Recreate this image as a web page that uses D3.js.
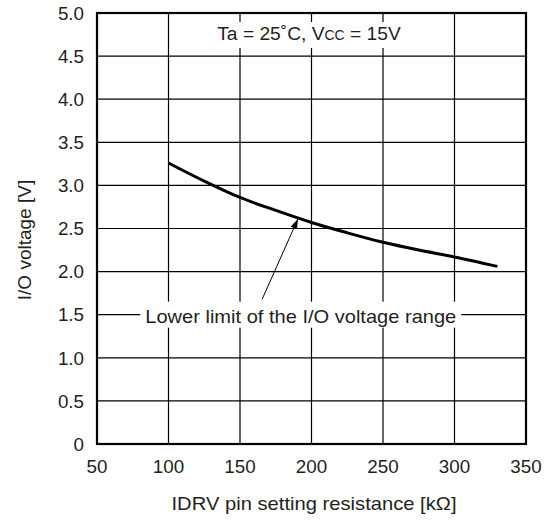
<!DOCTYPE html>
<html>
<head>
<meta charset="utf-8">
<script src="https://cdn.jsdelivr.net/npm/d3@7"></script>
<style>
  html, body { margin: 0; padding: 0; background: #fff; }
  svg { display: block; }
  text { font-family: "Liberation Sans", Arial, Helvetica, sans-serif; fill: #231f20; }
</style>
</head>
<body>
<svg id="chart" width="550" height="520"></svg>
<script>
// ---- data ----
const resistance = [100, 125, 150, 175, 200, 225, 250, 275, 300, 330];
const ioVoltage  = [3.26, 3.05, 2.86, 2.71, 2.57, 2.45, 2.34, 2.25, 2.17, 2.06];
const xTicks = [50, 100, 150, 200, 250, 300, 350];
const yTicks = [0, 0.5, 1.0, 1.5, 2.0, 2.5, 3.0, 3.5, 4.0, 4.5, 5.0];
const yTickLabels = ["0", "0.5", "1.0", "1.5", "2.0", "2.5", "3.0", "3.5", "4.0", "4.5", "5.0"];
const xTitle = "IDRV pin setting resistance [k\u03A9]";
const yTitle = "I/O voltage [V]";
const curveLabel = "Lower limit of the I/O voltage range";
const labelAnchor = [192.5, 1.5];     // data coords of label centre
const arrowFrom = [165.5, 1.68];
const arrowTo = [190.5, 2.61];

// ---- layout ----
const svg = d3.select("#chart");
const L = 97, T = 13, W = 429, H = 431;
const x = d3.scaleLinear().domain([50, 350]).range([L, L + W]);
const y = d3.scaleLinear().domain([0, 5]).range([T + H, T]);
const ink = "#000";
const fs = 18.8;

// grid
const grid = svg.append("g");
grid.selectAll("line.v").data(xTicks.slice(1, -1)).join("line")
  .attr("x1", d => x(d)).attr("x2", d => x(d))
  .attr("y1", T).attr("y2", T + H)
  .attr("stroke", ink).attr("stroke-width", 1.2);
grid.selectAll("line.h").data(yTicks.slice(1, -1)).join("line")
  .attr("x1", L).attr("x2", L + W)
  .attr("y1", d => y(d)).attr("y2", d => y(d))
  .attr("stroke", ink).attr("stroke-width", 1.2);

// tick labels
svg.append("g").selectAll("text").data(yTicks).join("text")
  .attr("x", L - 13).attr("y", d => y(d)).attr("dy", "0.36em")
  .attr("text-anchor", "end").attr("font-size", fs)
  .text((d, i) => yTickLabels[i]);
svg.append("g").selectAll("text").data(xTicks).join("text")
  .attr("x", d => x(d)).attr("y", T + H + 29)
  .attr("text-anchor", "middle").attr("font-size", fs)
  .text(d => d);

// axis titles
svg.append("text")
  .attr("x", 314).attr("y", 510)
  .attr("text-anchor", "middle").attr("font-size", 19)
  .attr("textLength", 285).attr("lengthAdjust", "spacingAndGlyphs")
  .text(xTitle);
svg.append("text")
  .attr("transform", `translate(31,${240}) rotate(-90)`)
  .attr("text-anchor", "middle").attr("font-size", 19)
  .text(yTitle);

// top condition label with white backing
const condG = svg.append("g");
condG.append("rect").attr("x", 209).attr("y", 22).attr("width", 200).attr("height", 26).attr("fill", "#fff");
const cond = condG.append("text").attr("x", 309).attr("y", 40)
  .attr("text-anchor", "middle").attr("font-size", 19.2);
cond.append("tspan").text("Ta = 25\u02DAC, V");
cond.append("tspan").attr("font-size", 14).text("CC");
cond.append("tspan").text(" = 15V");

// curve
svg.append("path")
  .datum(resistance.map((r, i) => [r, ioVoltage[i]]))
  .attr("fill", "none").attr("stroke", ink).attr("stroke-width", 3)
  .attr("d", d3.line().x(d => x(d[0])).y(d => y(d[1])).curve(d3.curveMonotoneX));

// curve label with white backing
const lblG = svg.append("g");
const lbl = lblG.append("text")
  .attr("x", x(labelAnchor[0])).attr("y", y(labelAnchor[1])).attr("dy", "0.45em")
  .attr("text-anchor", "middle").attr("font-size", 19)
  .attr("textLength", 311).attr("lengthAdjust", "spacingAndGlyphs")
  .text(curveLabel);
const bb = lbl.node().getBBox();
lblG.insert("rect", "text")
  .attr("x", bb.x - 5).attr("y", y(labelAnchor[1]) - 13)
  .attr("width", bb.width + 10).attr("height", 26)
  .attr("fill", "#fff");

// arrow
const defs = svg.append("defs");
defs.append("marker").attr("id", "ah")
  .attr("viewBox", "0 0 10 10").attr("refX", 10).attr("refY", 5)
  .attr("markerWidth", 10).attr("markerHeight", 10)
  .attr("markerUnits", "userSpaceOnUse")
  .attr("orient", "auto")
  .append("path").attr("d", "M0,1.5 L10,5 L0,8.5 Z").attr("fill", ink);
svg.append("line")
  .attr("x1", x(arrowFrom[0])).attr("y1", y(arrowFrom[1]))
  .attr("x2", x(arrowTo[0])).attr("y2", y(arrowTo[1]))
  .attr("stroke", ink).attr("stroke-width", 1)
  .attr("marker-end", "url(#ah)");

// frame
svg.append("rect").attr("x", L).attr("y", T).attr("width", W).attr("height", H)
  .attr("fill", "none").attr("stroke", ink).attr("stroke-width", 2.2);
</script>
</body>
</html>
